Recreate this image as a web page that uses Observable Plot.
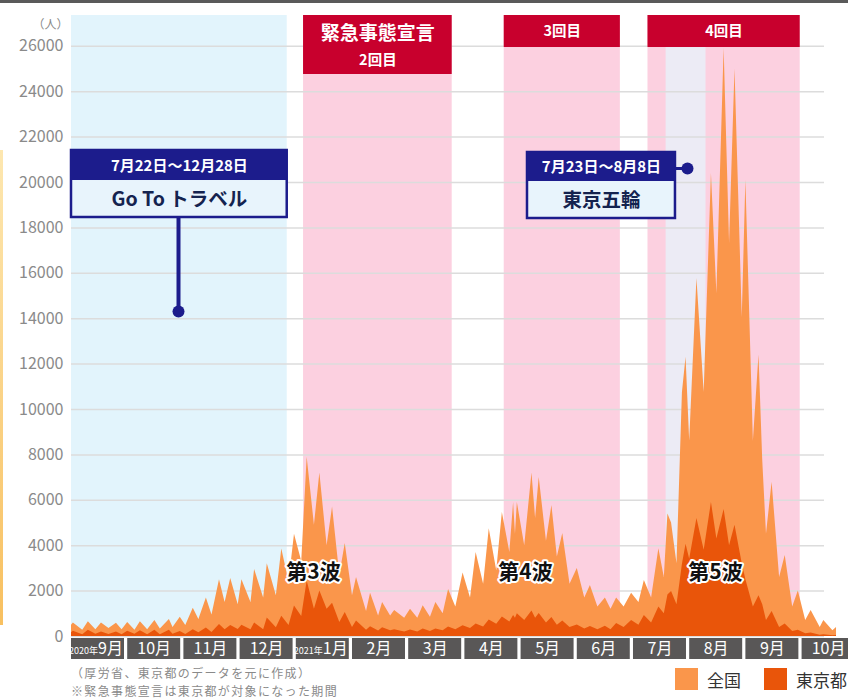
<!DOCTYPE html>
<html><head><meta charset="utf-8">
<script src="https://cdn.jsdelivr.net/npm/d3@7"></script>
<script src="https://cdn.jsdelivr.net/npm/@observablehq/plot@0.6"></script>
<style>
body{margin:0;background:#fff;font-family:"Noto Sans CJK JP",sans-serif;}
#wrap{position:relative;width:848px;height:700px;overflow:hidden;}
#topline{position:absolute;left:0;top:0;width:848px;height:3px;background:#5a5a5a;}
#leftline{position:absolute;left:0;top:150px;width:3px;height:475px;background:linear-gradient(#fde7b0,#f8c060);}
svg{display:block;}
#bar{position:absolute;left:0;top:630px;}
.cap{position:absolute;left:71px;font-size:12px;line-height:14px;letter-spacing:1.35px;color:#8a8a8a;white-space:nowrap;}
.lg{position:absolute;top:668px;display:flex;align-items:center;font-size:17px;color:#333;height:22px;}
.sw{width:23px;height:22px;display:inline-block;margin-right:9px;}
</style></head>
<body>
<div id="wrap">
  <div id="chart"></div>
  <div id="bar"></div>
  <div class="cap" style="top:665.5px">（厚労省、東京都のデータを元に作成）</div>
  <div class="cap" style="top:683.5px">※緊急事態宣言は東京都が対象になった期間</div>
  <div class="lg" style="left:675px"><span class="sw" style="background:#fa964b"></span>全国</div>
  <div class="lg" style="left:764px"><span class="sw" style="background:#e9550a"></span>東京都</div>
  <div id="topline"></div>
  <div id="leftline"></div>
</div>
<script>
// ---- data ----
const dates = [
"2020-09-01","2020-09-02","2020-09-07","2020-09-10","2020-09-14","2020-09-17","2020-09-21","2020-09-25","2020-09-28",
"2020-10-01","2020-10-05","2020-10-08","2020-10-12","2020-10-16","2020-10-19","2020-10-24","2020-10-26","2020-10-30",
"2020-11-02","2020-11-06","2020-11-09","2020-11-13","2020-11-16","2020-11-20","2020-11-23","2020-11-26","2020-11-30",
"2020-12-02","2020-12-07","2020-12-09","2020-12-14","2020-12-16","2020-12-21","2020-12-24","2020-12-28","2020-12-31",
"2021-01-04","2021-01-07","2021-01-11","2021-01-14","2021-01-18","2021-01-21","2021-01-25","2021-01-28",
"2021-02-01","2021-02-03","2021-02-08","2021-02-10","2021-02-14","2021-02-16","2021-02-20","2021-02-22","2021-02-27",
"2021-03-02","2021-03-06","2021-03-09","2021-03-13","2021-03-16","2021-03-20","2021-03-23","2021-03-27","2021-03-31",
"2021-04-04","2021-04-07","2021-04-11","2021-04-14","2021-04-18","2021-04-21","2021-04-25","2021-04-27","2021-04-28","2021-04-29",
"2021-05-03","2021-05-07","2021-05-09","2021-05-11","2021-05-15","2021-05-18","2021-05-21","2021-05-24","2021-05-28",
"2021-06-01","2021-06-05","2021-06-08","2021-06-12","2021-06-16","2021-06-19","2021-06-22","2021-06-26","2021-06-30",
"2021-07-04","2021-07-07","2021-07-11","2021-07-15","2021-07-18","2021-07-20","2021-07-22","2021-07-25","2021-07-28","2021-07-30",
"2021-08-01","2021-08-05","2021-08-09","2021-08-13","2021-08-16","2021-08-20","2021-08-23","2021-08-26","2021-08-30",
"2021-09-01","2021-09-05","2021-09-08","2021-09-10","2021-09-12","2021-09-15","2021-09-19","2021-09-22","2021-09-26","2021-09-29",
"2021-10-03","2021-10-06","2021-10-11","2021-10-13","2021-10-18","2021-10-20"
];
const national = [
500,600,280,650,300,600,350,580,300,
620,280,650,300,700,330,750,400,850,
480,1250,750,1700,950,2500,1500,2550,1400,
2500,1500,2950,1700,3200,1800,3850,2400,4500,
3300,7900,4900,7200,4000,5700,2700,4100,
1800,2600,1100,1900,900,1500,900,1150,800,
1200,800,1350,850,1500,1000,2070,1300,2800,
1700,3700,2300,4750,2900,5460,3700,5900,4500,5900,
4000,7200,5200,7000,4200,5770,3500,4540,2300,
3000,1700,2250,1300,1700,1200,1700,1300,1900,
1500,2470,1700,3870,2600,5400,5000,3200,10750,12300,
8600,15770,10750,20400,15100,25900,17300,25000,14050,
20100,8600,12400,7750,4500,6800,2600,3570,1300,2000,
700,1150,400,700,250,400
];
const tokyo = [
170,230,80,270,100,200,90,200,80,
230,100,250,80,280,80,270,100,220,
90,300,160,370,180,530,300,480,310,
500,300,600,300,820,390,890,480,1340,
880,2450,1200,2000,1200,1470,620,1060,
400,680,280,430,240,380,250,300,200,
290,200,330,220,330,250,420,300,475,
350,550,420,730,540,860,640,930,800,1000,
700,1120,800,1010,600,840,500,680,400,
510,330,440,300,450,300,570,400,700,
500,920,600,1300,1000,1830,1980,1400,3180,4060,
3400,5200,3800,5900,4300,5600,4000,4900,3200,
2500,1300,1800,1400,700,1100,400,550,220,270,
120,150,50,80,30,40
];
const monthLabels = ["9月","10月","11月","12月","1月","2月","3月","4月","5月","6月","7月","8月","9月","10月"];
const monthYears  = ["2020年","","","","2021年","","","","","","","","",""];
const yTicks = [0,2000,4000,6000,8000,10000,12000,14000,16000,18000,20000,22000,24000,26000];

const goToSpan = ["2020-09-01","2020-12-27"];
const goToTexts = ["7月22日～12月28日","Go To トラベル"];
const olympicSpan = ["2021-07-19","2021-08-10"];
const olympicTexts = ["7月23日～8月8日","東京五輪"];
const emergencyStart = ["2021-01-05","2021-04-22","2021-07-09"];
const emergencyEnd   = ["2021-03-25","2021-06-24","2021-09-30"];
const emergencyLabels = ["2回目","3回目","4回目"];
const emergencyTitles = ["緊急事態宣言","",""];
const emergencyHeaderBottom = [24758,25947,25947];
const waveLabels = ["第3波","第4波","第5波"];
const waveX = [4.306,8.078,11.459];
const waveY = 2819;

// ---- helpers ----
function toX(s){
  const [y,m,d] = s.split("-").map(Number);
  const idx = (y-2020)*12 + (m-9);
  const dim = new Date(Date.UTC(y,m,0)).getUTCDate();
  return idx + (d-1)/dim;
}
const yMax = 27357;
const xDomain = [0, 13.826];
const gridEnd = 13.399;
const navy = "#1c1c8c";
const red = "#c8002d";
const font = '"Noto Sans CJK JP", sans-serif';

const series = dates.map((d,i)=>({x: toX(d), national: national[i], tokyo: tokyo[i]}));
const emergencies = emergencyStart.map((s,i)=>({x1: toX(s), x2: toX(emergencyEnd[i]), hb: emergencyHeaderBottom[i], label: emergencyLabels[i], title: emergencyTitles[i]}));

// annotation boxes (value units)
const goTo = {x1: toX(goToSpan[0]), x2: toX(goToSpan[1]), top: 21410, mid: 20088, bottom: 18458, t1: 20705, t2: 19251, lineX: 1.904, dotY: 14317};
const oly = {x1: 8.114, x2: 10.747, top: 21322, mid: 20044, bottom: 18414, t1: 20661, t2: 19207, lineY: 20617, dotX: 10.961};

const chart = Plot.plot({
  width: 848, height: 637,
  marginLeft: 71, marginRight: 0, marginTop: 15, marginBottom: 1,
  x: {domain: xDomain, axis: null},
  y: {domain: [0, yMax], axis: null},
  style: {fontFamily: font, background: "transparent", overflow: "visible"},
  marks: [
    Plot.rect([goToSpan], {x1: d=>toX(d[0]), x2: d=>toX(d[1]), y1: 0, y2: yMax, fill: "#e2f4fc"}),
    Plot.rect(emergencies, {x1: "x1", x2: "x2", y1: 0, y2: yMax, fill: "#fcd0e0"}),
    Plot.rect([olympicSpan], {x1: d=>toX(d[0]), x2: d=>toX(d[1]), y1: 0, y2: emergencyHeaderBottom[2], fill: "#ecebf5"}),
    Plot.ruleY(yTicks, {x1: 0, x2: gridEnd, stroke: "#dcdcdc", strokeWidth: 1.5}),
    Plot.axisY({ticks: yTicks, tickSize: 0, tickPadding: 8, fontSize: 16, color: "#8a8a8a", tickFormat: d=>String(d), label: null}),
    Plot.text(["（人）"], {frameAnchor: "top-left", dx: -3, dy: 5, textAnchor: "end", fontSize: 12, fill: "#8a8a8a"}),
    // emergency headers
    Plot.rect(emergencies, {x1: "x1", x2: "x2", y1: "hb", y2: yMax, fill: red}),
    Plot.text(emergencies.filter(d=>d.title), {x: d=>(d.x1+d.x2)/2, y: 26564, text: "title", fill: "white", fontSize: 19, fontWeight: "bold"}),
    Plot.text(emergencies.filter(d=>d.title), {x: d=>(d.x1+d.x2)/2, y: 25375, text: "label", fill: "white", fontSize: 14.5, fontWeight: "bold"}),
    Plot.text(emergencies.filter(d=>!d.title), {x: d=>(d.x1+d.x2)/2, y: 26652, text: "label", fill: "white", fontSize: 14.5, fontWeight: "bold"}),
    // areas
    Plot.areaY(series, {x: "x", y: "national", fill: "#fa964b"}),
    Plot.areaY(series, {x: "x", y: "tokyo", fill: "#e9550a"}),
    // wave labels
    Plot.text(waveLabels, {x: (d,i)=>waveX[i], y: waveY, text: d=>d, fontSize: 21, fontWeight: "bold", fill: "#111", stroke: "white", strokeWidth: 4}),
    // Go To box
    Plot.ruleX([goTo], {x: "lineX", y1: "bottom", y2: "dotY", stroke: navy, strokeWidth: 4}),
    Plot.dot([goTo], {x: "lineX", y: "dotY", r: 6, fill: navy}),
    Plot.rect([goTo], {x1: "x1", x2: "x2", y1: "bottom", y2: "top", fill: "#e8f4fc", stroke: navy, strokeWidth: 2.5}),
    Plot.rect([goTo], {x1: "x1", x2: "x2", y1: "mid", y2: "top", fill: navy}),
    Plot.text([goTo], {x: d=>(d.x1+d.x2)/2, y: "t1", text: ()=>goToTexts[0], fill: "white", fontSize: 15, fontWeight: "bold"}),
    Plot.text([goTo], {x: d=>(d.x1+d.x2)/2, y: "t2", text: ()=>goToTexts[1], fill: "#14234f", fontSize: 19.5, fontWeight: "bold"}),
    // Olympic box
    Plot.ruleY([oly], {y: "lineY", x1: "x2", x2: "dotX", stroke: navy, strokeWidth: 3}),
    Plot.dot([oly], {x: "dotX", y: "lineY", r: 6, fill: navy}),
    Plot.rect([oly], {x1: "x1", x2: "x2", y1: "bottom", y2: "top", fill: "#e8f4fc", stroke: navy, strokeWidth: 2.5}),
    Plot.rect([oly], {x1: "x1", x2: "x2", y1: "mid", y2: "top", fill: navy}),
    Plot.text([oly], {x: d=>(d.x1+d.x2)/2, y: "t1", text: ()=>olympicTexts[0], fill: "white", fontSize: 15, fontWeight: "bold"}),
    Plot.text([oly], {x: d=>(d.x1+d.x2)/2, y: "t2", text: ()=>olympicTexts[1], fill: "#14234f", fontSize: 19.5, fontWeight: "bold"})
  ]
});
document.getElementById("chart").appendChild(chart);

const boxFrac = 0.943;
const bar = Plot.plot({
  width: 848, height: 40,
  marginLeft: 71, marginRight: 0, marginTop: 8, marginBottom: 11,
  x: {domain: xDomain, axis: null},
  y: {domain: [0, 1], axis: null},
  style: {fontFamily: font, background: "transparent", overflow: "visible"},
  marks: [
    Plot.rect(monthLabels, {x1: (d,i)=>i, x2: (d,i)=>i+boxFrac, y1: 0, y2: 1, fill: "#595757"}),
    Plot.text(monthLabels, {filter: (d,i)=>!monthYears[i], x: (d,i)=>i+boxFrac/2, y: 0.5, text: d=>d, fill: "white", fontSize: 16}),
    Plot.text(monthLabels, {filter: (d,i)=>monthYears[i], x: (d,i)=>i+boxFrac/2, y: 0.5, text: d=>d, fill: "white", fontSize: 16, textAnchor: "start"}),
    Plot.text(monthYears, {filter: d=>d, x: (d,i)=>i+boxFrac/2, y: 0.5, dy: 2.5, text: d=>d, fill: "white", fontSize: 9, textAnchor: "end"})
  ]
});
document.getElementById("bar").appendChild(bar);
</script>
</body></html>
